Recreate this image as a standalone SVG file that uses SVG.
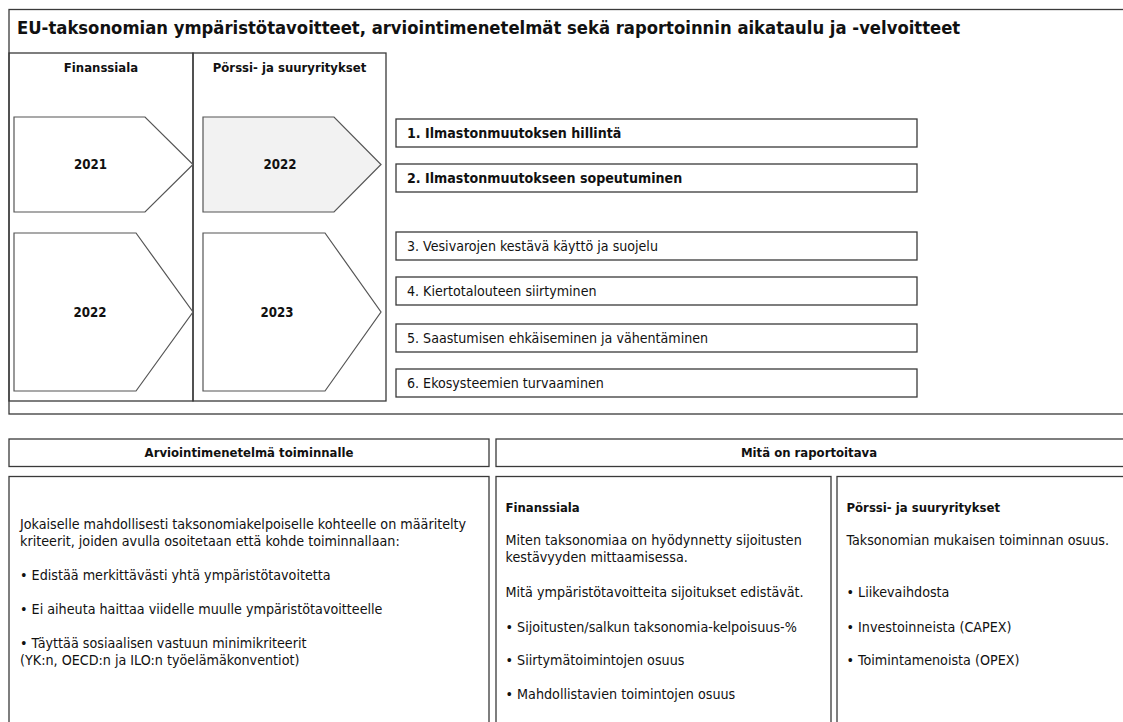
<svg xmlns="http://www.w3.org/2000/svg" width="1123" height="722" viewBox="0 0 1123 722">
  <style>
    text { font-family: "DejaVu Sans Condensed", "DejaVu Sans", sans-serif; fill: #111; }
    .b { font-weight: bold; }
    .title { font-size: 18.3px; font-weight: bold; }
    .hdr { font-size: 13px; font-weight: bold; }
    .yr { font-size: 13.2px; font-weight: bold; }
    .goal { font-size: 14.1px; }
    .body { font-size: 14.2px; }
    .frame { fill: none; stroke: #3a3a3a; stroke-width: 1.3; }
    .box { fill: #fff; stroke: #3a3a3a; stroke-width: 1.3; }
    .arrow { fill: #fff; stroke: #555; stroke-width: 1.2; }
    .arrow.hl { fill: #f2f2f2; }
  </style>

  <rect width="1123" height="722" fill="#fff"/>

  <!-- Top panel: title frame and timeline columns -->
  <g id="top-frame">
    <rect class="frame" x="9" y="9.5" width="1130" height="404.5"/>
    <text class="title" x="17" y="33.5">EU-taksonomian ympäristötavoitteet, arviointimenetelmät sekä raportoinnin aikataulu ja -velvoitteet</text>
  </g>

  <g id="col-finanssiala">
    <rect class="frame" x="9" y="53" width="184" height="348"/>
    <text class="hdr" x="101" y="71.5" text-anchor="middle">Finanssiala</text>
  </g>
  <g id="col-porssi">
    <rect class="frame" x="193" y="53" width="193" height="348"/>
    <text class="hdr" x="289.5" y="71.5" text-anchor="middle">Pörssi- ja suuryritykset</text>
  </g>

  <!-- Timeline arrows -->
  <g id="fin-2021">
    <polygon class="arrow" points="14,117 145,117 193,164.5 145,212 14,212"/>
    <text class="yr" x="90.5" y="169" text-anchor="middle">2021</text>
  </g>
  <g id="fin-2022">
    <polygon class="arrow" points="14,233 136,233 193,312 136,391 14,391"/>
    <text class="yr" x="90" y="317" text-anchor="middle">2022</text>
  </g>
  <g id="porssi-2022">
    <polygon class="arrow hl" points="203,117 334,117 381,164.5 334,212 203,212"/>
    <text class="yr" x="280" y="169" text-anchor="middle">2022</text>
  </g>
  <g id="porssi-2023">
    <polygon class="arrow" points="203,233 325,233 381,312 325,391 203,391"/>
    <text class="yr" x="277" y="317" text-anchor="middle">2023</text>
  </g>

  <!-- Environmental objectives -->
  <g id="goal-1">
    <rect class="box" x="396" y="119" width="521" height="28"/>
    <text class="goal b" x="407" y="138">1. Ilmastonmuutoksen hillintä</text>
  </g>
  <g id="goal-2">
    <rect class="box" x="396" y="164" width="521" height="28"/>
    <text class="goal b" x="407" y="183">2. Ilmastonmuutokseen sopeutuminen</text>
  </g>
  <g id="goal-3">
    <rect class="box" x="396" y="232" width="521" height="28"/>
    <text class="goal" x="407" y="251">3. Vesivarojen kestävä käyttö ja suojelu</text>
  </g>
  <g id="goal-4">
    <rect class="box" x="396" y="277" width="521" height="28"/>
    <text class="goal" x="407" y="296">4. Kiertotalouteen siirtyminen</text>
  </g>
  <g id="goal-5">
    <rect class="box" x="396" y="324" width="521" height="28"/>
    <text class="goal" x="407" y="343">5. Saastumisen ehkäiseminen ja vähentäminen</text>
  </g>
  <g id="goal-6">
    <rect class="box" x="396" y="369" width="521" height="28"/>
    <text class="goal" x="407" y="388">6. Ekosysteemien turvaaminen</text>
  </g>

  <!-- Assessment method -->
  <g id="arviointi-header">
    <rect class="box" x="9" y="439" width="480" height="27.5"/>
    <text class="hdr" x="249" y="457" text-anchor="middle">Arviointimenetelmä toiminnalle</text>
  </g>
  <g id="arviointi-body">
    <rect class="box" x="9" y="476.5" width="480" height="260"/>
    <text class="body" x="20" y="529">Jokaiselle mahdollisesti taksonomiakelpoiselle kohteelle on määritelty</text>
    <text class="body" x="20" y="545.5">kriteerit, joiden avulla osoitetaan että kohde toiminnallaan:</text>
    <text class="body" x="20" y="580">• Edistää merkittävästi yhtä ympäristötavoitetta</text>
    <text class="body" x="20" y="614">• Ei aiheuta haittaa viidelle muulle ympäristötavoitteelle</text>
    <text class="body" x="20" y="648">• Täyttää sosiaalisen vastuun minimikriteerit</text>
    <text class="body" x="20" y="665">(YK:n, OECD:n ja ILO:n työelämäkonventiot)</text>
  </g>

  <!-- Reporting requirements -->
  <g id="raportointi-header">
    <rect class="box" x="496" y="439" width="640" height="27.5"/>
    <text class="hdr" x="809" y="457" text-anchor="middle">Mitä on raportoitava</text>
  </g>
  <g id="raportointi-finanssiala">
    <rect class="box" x="496" y="476.5" width="335" height="260"/>
    <text class="hdr" x="505.5" y="511.5">Finanssiala</text>
    <text class="body" x="505.5" y="545">Miten taksonomiaa on hyödynnetty sijoitusten</text>
    <text class="body" x="505.5" y="562">kestävyyden mittaamisessa.</text>
    <text class="body" x="505.5" y="596.5">Mitä ympäristötavoitteita sijoitukset edistävät.</text>
    <text class="body" x="505.5" y="631.5">• Sijoitusten/salkun taksonomia-kelpoisuus-%</text>
    <text class="body" x="505.5" y="665">• Siirtymätoimintojen osuus</text>
    <text class="body" x="505.5" y="699">• Mahdollistavien toimintojen osuus</text>
  </g>
  <g id="raportointi-porssi">
    <rect class="box" x="837" y="476.5" width="300" height="260"/>
    <text class="hdr" x="846.5" y="511.5">Pörssi- ja suuryritykset</text>
    <text class="body" x="846.5" y="545">Taksonomian mukaisen toiminnan osuus.</text>
    <text class="body" x="846.5" y="596.5">• Liikevaihdosta</text>
    <text class="body" x="846.5" y="631.5">•  Investoinneista (CAPEX)</text>
    <text class="body" x="846.5" y="665">•  Toimintamenoista (OPEX)</text>
  </g>
</svg>
